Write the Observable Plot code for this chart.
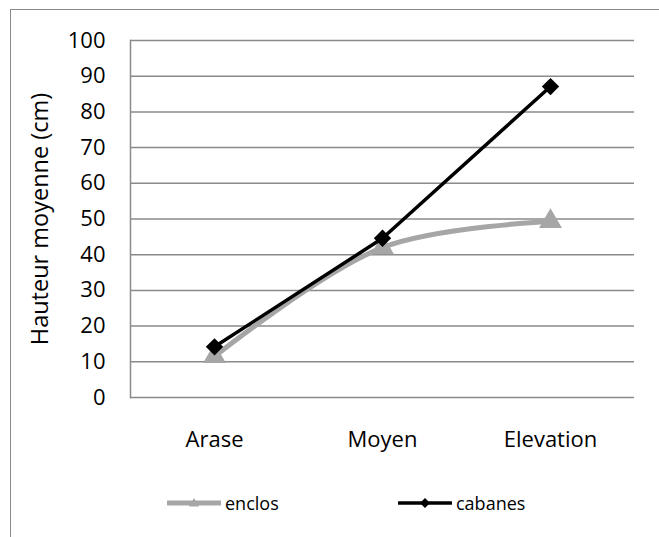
<!DOCTYPE html>
<html>
<head>
<meta charset="utf-8">
<script src="https://cdn.jsdelivr.net/npm/d3@7"></script>
<script src="https://cdn.jsdelivr.net/npm/@observablehq/plot@0.6"></script>
<style>
  html, body { margin: 0; padding: 0; background: #fff; width: 659px; height: 537px; overflow: hidden; }
  #border { position: absolute; left: 10px; top: 9px; width: 700px; height: 600px;
            border-left: 1.5px solid #8a8a8a; border-top: 1.5px solid #8a8a8a; }
  #chart { position: absolute; left: 0; top: 0; }
  #chart g[aria-label="y-axis label"] text { font-size: 23.5px; }
  #legend { position: absolute; left: 0; top: 490px; width: 659px; height: 26px;
            font-family: "Open Sans", sans-serif; font-size: 18px; color: #000; }
  .item { position: absolute; top: 0; display: flex; align-items: center; height: 26px; }
  .item svg { display: block; margin-right: 4px; }
</style>
</head>
<body>
<div id="border"></div>
<div id="chart"></div>
<div id="legend"></div>
<script>
const categories = ["Arase", "Moyen", "Elevation"];
const enclos = [11.5, 42, 49.3];
const cabanes = [14.2, 44.6, 87.1];
const yTicks = [0, 10, 20, 30, 40, 50, 60, 70, 80, 90, 100];
const seriesNames = ["enclos", "cabanes"];
const seriesColors = ["#a6a6a6", "#000000"];

const enclosData = categories.map((c, i) => ({cat: c, value: enclos[i]}));
const cabanesData = categories.map((c, i) => ({cat: c, value: cabanes[i]}));

const plot = Plot.plot({
  width: 659,
  height: 470,
  marginLeft: 130,
  marginRight: 25,
  marginTop: 40,
  marginBottom: 73,
  style: {fontFamily: "Open Sans, sans-serif", fontSize: "22px", color: "#000", background: "transparent", overflow: "visible"},
  x: {type: "point", domain: categories, padding: 0.5, label: null},
  y: {domain: [0, 100], label: null},
  marks: [
    Plot.gridY(yTicks, {stroke: "#8a8a8a", strokeOpacity: 1, strokeWidth: 1.5}),
    Plot.frame({anchor: "left", stroke: "#8a8a8a", strokeWidth: 1.5}),
    Plot.axisY({ticks: yTicks, tickSize: 0, tickPadding: 25, label: "Hauteur moyenne (cm)", labelAnchor: "center", labelOffset: 99, labelArrow: "none"}),
    Plot.axisX({tickSize: 0, tickPadding: 34, label: null}),
    Plot.line(enclosData, {x: "cat", y: "value", stroke: seriesColors[0], strokeWidth: 5, curve: "catmull-rom"}),
    Plot.dot(enclosData, {x: "cat", y: "value", symbol: "triangle", r: 8.5, fill: seriesColors[0], stroke: "none"}),
    Plot.line(cabanesData, {x: "cat", y: "value", stroke: seriesColors[1], strokeWidth: 3.5}),
    Plot.dot(cabanesData, {x: "cat", y: "value", symbol: "diamond2", r: 7.8, fill: seriesColors[1], stroke: "none"})
  ]
});
document.getElementById("chart").appendChild(plot);

// Legend
const legend = document.getElementById("legend");
const legendLeft = [167, 398];
seriesNames.forEach((name, i) => {
  const item = document.createElement("div");
  item.className = "item";
  item.style.left = legendLeft[i] + "px";
  const w = 54, h = 26;
  const sym = i === 0
    ? `<path d="M${w/2},${h/2-5} L${w/2+5},${h/2+3.5} L${w/2-5},${h/2+3.5} Z" fill="${seriesColors[i]}"/>`
    : `<path d="M${w/2},${h/2-5} L${w/2+5},${h/2} L${w/2},${h/2+5} L${w/2-5},${h/2} Z" fill="${seriesColors[i]}"/>`;
  item.innerHTML = `<svg width="${w}" height="${h}"><line x1="1" x2="${w-1}" y1="${h/2}" y2="${h/2}" stroke="${seriesColors[i]}" stroke-width="${i === 0 ? 5 : 3.5}" stroke-linecap="round"/>${sym}</svg><span>${name}</span>`;
  legend.appendChild(item);
});
</script>
</body>
</html>
